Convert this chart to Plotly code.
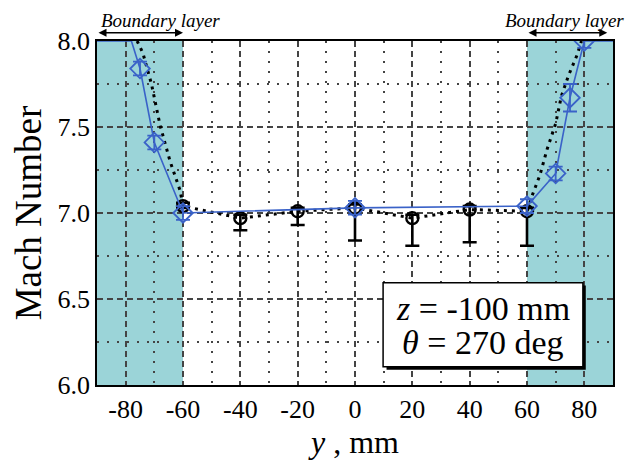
import plotly.graph_objects as go

# ---- data ----
# black measurement series (circles, downward error bars)
black_x = [-60, -40, -20, 0, 20, 40, 60]
black_y = [7.04, 6.97, 7.01, 7.03, 6.97, 7.02, 7.01]
black_err_plus = [0.02, 0.02, 0.02, 0.02, 0.02, 0.02, 0.02]
black_err_minus = [0.01, 0.07, 0.08, 0.19, 0.16, 0.19, 0.20]
# black dotted profile curve
black_curve_x = [-76, -74, -71, -68, -64.5, -61, -60, -40, -20, 0, 20, 40, 60,
                 62, 64.5, 67, 70, 72, 74.5, 77.5, 79]
black_curve_y = [8.0, 7.93, 7.75, 7.51, 7.30, 7.13, 7.04, 6.97, 7.01, 7.03, 6.97, 7.02, 7.01,
                 7.11, 7.22, 7.37, 7.52, 7.68, 7.80, 7.92, 8.0]
# blue series (diamonds, solid line)
blue_line_x = [-90, -78, -75, -70, -60, 0, 60, 70, 75, 80, 90]
blue_line_y = [8.0, 8.0, 7.84, 7.41, 7.0, 7.03, 7.04, 7.23, 7.67, 8.0, 8.0]
blue_x = [-75, -70, -60, 0, 60, 70, 75, 80]
blue_y = [7.84, 7.41, 7.0, 7.03, 7.04, 7.23, 7.67, 8.0]
blue_err = [0.04, 0.04, 0.04, 0.04, 0.04, 0.04, 0.08, 0.04]

x_ticks = [-80, -60, -40, -20, 0, 20, 40, 60, 80]
y_ticks = [6.0, 6.5, 7.0, 7.5, 8.0]
bl_left = [-90, -60]
bl_right = [60, 88]

SERIF = "Liberation Serif, Times New Roman, serif"
BLUE = "#3a62c8"
TEAL = "#9bd4d8"
GRID = "#444444"

fig = go.Figure()

fig.add_trace(go.Scatter(x=black_curve_x, y=black_curve_y, mode="lines",
                         line=dict(color="black", width=3, dash="3px,5px"),
                         showlegend=False, hoverinfo="skip"))
fig.add_trace(go.Scatter(x=black_x, y=black_y, mode="markers",
                         marker=dict(symbol="circle-open", size=12, color="black",
                                     line=dict(width=2.4, color="black")),
                         error_y=dict(type="data", array=black_err_plus,
                                      arrayminus=black_err_minus, symmetric=False,
                                      color="black", thickness=2.6, width=7),
                         showlegend=False))
fig.add_trace(go.Scatter(x=blue_line_x, y=blue_line_y, mode="lines",
                         line=dict(color=BLUE, width=1.6),
                         showlegend=False, hoverinfo="skip"))
fig.add_trace(go.Scatter(x=blue_x, y=blue_y, mode="markers",
                         marker=dict(symbol="diamond-open", size=15, color=BLUE,
                                     line=dict(width=1.8, color=BLUE)),
                         error_y=dict(type="data", array=blue_err, color=BLUE,
                                      thickness=1.8, width=7),
                         showlegend=False))

# boundary layer shading
for x0, x1 in ([-90, -60], [60, 90]):
    fig.add_shape(type="rect", xref="x", yref="paper", x0=x0, x1=x1, y0=0, y1=1,
                  fillcolor=TEAL, line=dict(width=0), layer="below")

# text box with shadow
fig.add_shape(type="rect", xref="x", yref="y", x0=11.0, x1=80.5, y0=6.088, y1=6.578,
              fillcolor="black", line=dict(width=0), layer="above")
fig.add_shape(type="rect", xref="x", yref="y", x0=9.8, x1=79.5, y0=6.106, y1=6.595,
              fillcolor="white", line=dict(width=1.5, color="black"), layer="above")
fig.add_annotation(x=44.6, y=6.445, xref="x", yref="y", showarrow=False,
                   text="<i>z</i> = -100 mm", font=dict(family=SERIF, size=34, color="black"))
fig.add_annotation(x=44.6, y=6.245, xref="x", yref="y", showarrow=False,
                   text="<i>θ</i> = 270 deg", font=dict(family=SERIF, size=34, color="black"))

# boundary layer labels and arrows
for (xa, xb), xc in ((bl_left, -68), (bl_right, 73)):
    fig.add_annotation(x=xc, y=1.06, xref="x", yref="y domain", showarrow=False,
                       yanchor="middle", text="<i>Boundary layer</i>",
                       font=dict(family=SERIF, size=19, color="black"))
    fig.add_annotation(x=xb, y=1.024, ax=xa, ay=1.024, xref="x", yref="y domain",
                       axref="x", ayref="y domain", showarrow=True, arrowhead=2,
                       arrowside="end+start", arrowsize=1, arrowwidth=1.6,
                       arrowcolor="black", text="")

# figure is shifted 8px by the page's body margin, so it is sized to fit the window
fig.update_layout(
    width=625, height=461,
    margin=dict(l=89, r=20, t=33, b=84),
    plot_bgcolor="white", paper_bgcolor="white",
    font=dict(family=SERIF, color="black"),
    xaxis=dict(range=[-90, 90], tickvals=x_ticks, ticktext=[str(v) for v in x_ticks],
               showgrid=True, gridcolor=GRID, gridwidth=1.5, griddash="6px,4px",
               minor=dict(dtick=10, tick0=0, showgrid=True, gridcolor=GRID,
                          gridwidth=1.5, griddash="2px,8px"),
               zeroline=False, showline=True, linecolor="black", linewidth=1.8,
               mirror=True, ticks="", tickfont=dict(size=26, family=SERIF),
               automargin=False,
               title=dict(text="<i>y</i> , mm", font=dict(size=32, family=SERIF),
                          standoff=8)),
    yaxis=dict(range=[6.0, 8.0], tickvals=y_ticks, tickformat=".1f",
               showgrid=True, gridcolor=GRID, gridwidth=1.5, griddash="6px,4px",
               minor=dict(dtick=0.25, tick0=6.0, showgrid=True, gridcolor=GRID,
                          gridwidth=1.5, griddash="2px,8px"),
               zeroline=False, showline=True, linecolor="black", linewidth=1.8,
               mirror=True, ticks="", tickfont=dict(size=26, family=SERIF),
               automargin=False,
               title=dict(text="Mach Number", font=dict(size=37, family=SERIF),
                          standoff=10)),
)

fig.write_html("out.html")
